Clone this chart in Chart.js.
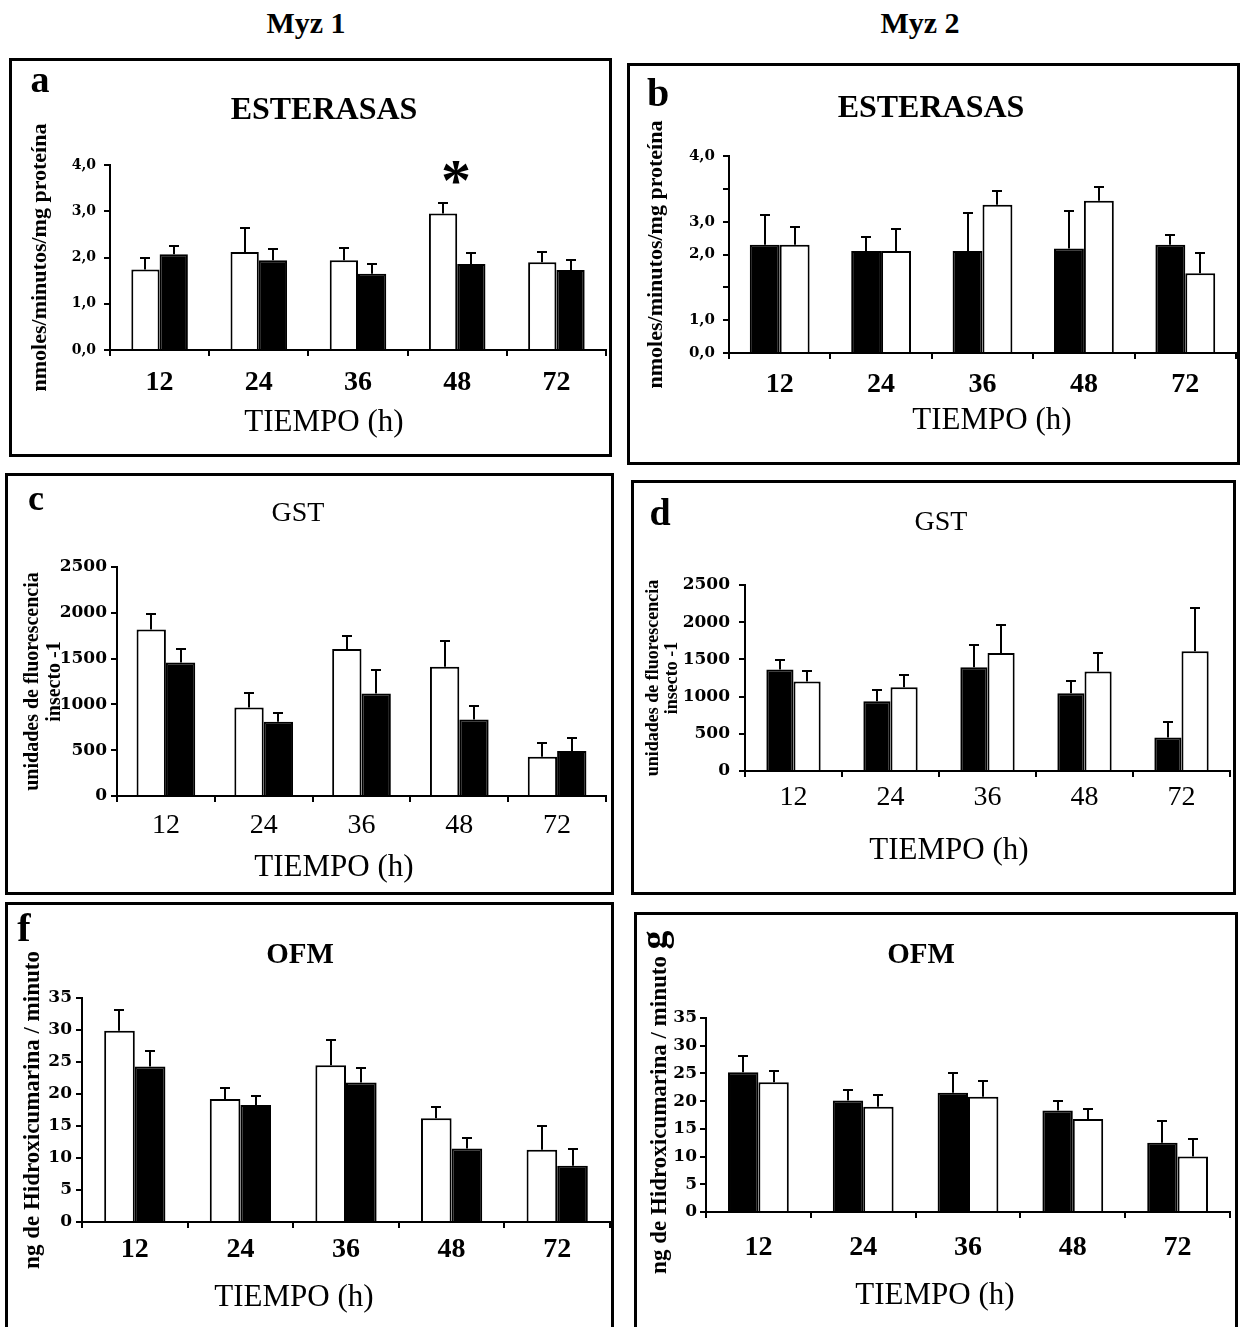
<!DOCTYPE html>
<html>
<head>
<meta charset="utf-8">
<script src="https://cdn.jsdelivr.net/npm/chart.js@4.4.1/dist/chart.umd.min.js"></script>
<style>
  body { margin: 0; background: #fff; width: 1241px; height: 1327px; position: relative; overflow: hidden;
         font-family: "Liberation Serif", "Times New Roman", serif; color: #000; }
  .box { position: absolute; border: 3px solid #000; box-sizing: border-box; }
  .box canvas { position: absolute; left: 0; top: 0; }
  .t { position: absolute; transform: translate(-50%, -50%); line-height: 1; white-space: nowrap; }
</style>
</head>
<body>
<div class="box" id="pa"></div>
<div class="box" id="pb"></div>
<div class="box" id="pc"></div>
<div class="box" id="pd"></div>
<div class="box" id="pf"></div>
<div class="box" id="pg"></div>
<div id="labels"></div>

<script>
// categorias (tiempo, h)
var categories = ["12", "24", "36", "48", "72"];

// a - ESTERASAS Myz 1 (barras blancas / negras)
var estMyz1Blanco = [1.74, 2.12, 1.94, 2.95, 1.90];
var estMyz1BlancoErr = [0.24, 0.51, 0.27, 0.22, 0.22];
var estMyz1Negro = [2.07, 1.94, 1.65, 1.86, 1.73];
var estMyz1NegroErr = [0.18, 0.25, 0.22, 0.23, 0.21];
var estMyz1Ticks = [0, 1, 2, 3, 4];
var estMyz1TickLabels = ["0,0", "1,0", "2,0", "3,0", "4,0"];

// b - ESTERASAS Myz 2 (negras / blancas)
var estMyz2Negro = [2.20, 2.07, 2.07, 2.12, 2.20];
var estMyz2NegroErr = [0.60, 0.28, 0.77, 0.77, 0.20];
var estMyz2Blanco = [2.20, 2.07, 3.01, 3.09, 1.62];
var estMyz2BlancoErr = [0.35, 0.44, 0.27, 0.28, 0.42];
var estMyz2Ticks = [0, 0.667, 1.333, 2, 2.667, 3.333, 4];
var estMyz2TickLabels = ["0,0", "1,0", "", "2,0", "3,0", "", "4,0"];

// c - GST Myz 1
var gstMyz1Blanco = [1817, 967, 1606, 1410, 429];
var gstMyz1BlancoErr = [174, 159, 138, 280, 152];
var gstMyz1Negro = [1457, 810, 1119, 836, 491];
var gstMyz1NegroErr = [145, 98, 255, 149, 145];

// d - GST Myz 2
var gstMyz2Negro = [1365, 937, 1396, 1045, 450];
var gstMyz2NegroErr = [130, 158, 298, 158, 212];
var gstMyz2Blanco = [1203, 1126, 1586, 1338, 1608];
var gstMyz2BlancoErr = [135, 158, 373, 248, 577];
var gstTicks = [0, 500, 1000, 1500, 2000, 2500];
var gstTickLabels = ["0", "500", "1000", "1500", "2000", "2500"];

// f - OFM Myz 1
var ofmMyz1Blanco = [29.9, 19.2, 24.5, 16.2, 11.3];
var ofmMyz1BlancoErr = [3.3, 1.8, 4.0, 1.7, 3.7];
var ofmMyz1Negro = [24.3, 18.3, 21.8, 11.5, 8.8];
var ofmMyz1NegroErr = [2.4, 1.4, 2.3, 1.7, 2.6];

// g - OFM Myz 2
var ofmMyz2Negro = [25.2, 20.1, 21.5, 18.3, 12.5];
var ofmMyz2NegroErr = [2.9, 2.0, 3.5, 1.8, 4.0];
var ofmMyz2Blanco = [23.4, 19.0, 20.8, 16.8, 10.0];
var ofmMyz2BlancoErr = [2.1, 2.1, 2.9, 1.7, 3.2];
var ofmTicks = [0, 5, 10, 15, 20, 25, 30, 35];
var ofmTickLabels = ["0", "5", "10", "15", "20", "25", "30", "35"];

Chart.defaults.color = "#000";
Chart.defaults.font.family = '"Liberation Serif", "Times New Roman", serif';

// barras de error (solo hacia arriba, con remate)
var errorBars = {
    id: "errorBars",
    afterDatasetsDraw: function (chart) {
        var ctx = chart.ctx, y = chart.scales.y;
        ctx.save();
        ctx.strokeStyle = "#000";
        ctx.lineWidth = 2;
        chart.data.datasets.forEach(function (ds, i) {
            chart.getDatasetMeta(i).data.forEach(function (bar, j) {
                var top = Math.round(y.getPixelForValue(ds.data[j] + ds.errors[j]));
                var x = Math.round(bar.x);
                ctx.beginPath();
                ctx.moveTo(x, bar.y);
                ctx.lineTo(x, top);
                ctx.moveTo(x - 5, top);
                ctx.lineTo(x + 5, top);
                ctx.stroke();
            });
        });
        ctx.restore();
    }
};

var BW = 3, TL = 6;

function panel(id, L, series, yTicks, yLabels) {
    var box = document.getElementById(id);
    var x0 = L.box[0], y0 = L.box[1], x1 = L.box[2], y1 = L.box[3];
    box.style.left = x0 + "px"; box.style.top = y0 + "px";
    box.style.width = (x1 - x0) + "px"; box.style.height = (y1 - y0) + "px";
    var cw = x1 - x0 - 2 * BW, ch = y1 - y0 - 2 * BW, ox = x0 + BW, oy = y0 + BW;
    var aL = L.area[0] - ox, aT = L.area[1] - oy, aR = L.area[2] - ox, aB = L.area[3] - oy;
    var canvas = document.createElement("canvas");
    canvas.width = cw; canvas.height = ch;
    canvas.style.width = cw + "px"; canvas.style.height = ch + "px";
    box.appendChild(canvas);

    var padL = L.padLeft || 0;
    var yt = L.yTitleFont;
    var ytPad = (L.yTitleX - ox) - padL - yt.size * yt.lineHeight / 2;
    var yTickPad = aL - (L.yLabelRight - ox) - TL;
    var xTickPad = (L.xLabelY - oy) - aB - TL - L.xTickFont.size * 1.2 / 2;

    new Chart(canvas, {
        type: "bar",
        data: {
            labels: categories,
            datasets: series.map(function (s) {
                return {
                    data: s.values,
                    errors: s.errors,
                    backgroundColor: s.fill,
                    borderColor: "#000",
                    borderWidth: 2,
                    borderSkipped: "start",
                    categoryPercentage: L.groupWidth,
                    barPercentage: 1
                };
            })
        },
        options: {
            responsive: false,
            animation: false,
            devicePixelRatio: 1,
            layout: { padding: { left: padL, right: cw - aR, top: aT, bottom: 0 } },
            plugins: { legend: { display: false }, tooltip: { enabled: false } },
            scales: {
                x: {
                    grid: { display: true, drawOnChartArea: false, drawTicks: true, tickLength: TL, color: "#000", lineWidth: 2 },
                    border: { display: true, color: "#000", width: 2 },
                    ticks: { font: L.xTickFont, color: "#000", padding: xTickPad, maxRotation: 0, minRotation: 0, autoSkip: false },
                    afterFit: function (s) { s.height = ch - aB; }
                },
                y: {
                    min: yTicks[0],
                    max: yTicks[yTicks.length - 1],
                    afterBuildTicks: function (s) { s.ticks = yTicks.map(function (v) { return { value: v }; }); },
                    grid: { display: true, drawOnChartArea: false, drawTicks: true, tickLength: TL, color: "#000", lineWidth: 2 },
                    border: { display: true, color: "#000", width: 2 },
                    ticks: {
                        font: L.yTickFont, color: "#000", padding: yTickPad, autoSkip: false,
                        callback: function (v, i) { return yLabels[i]; }
                    },
                    title: { display: true, text: L.yTitle, font: yt, color: "#000", padding: { top: ytPad, bottom: 0 } },
                    afterFit: function (s) { s.width = aL - padL; }
                }
            }
        },
        plugins: [errorBars]
    });
}

var W = "#ffffff", K = "#000000";
var serif = '"Liberation Serif", "Times New Roman", serif';
var dejavu = '"DejaVu Serif", serif';

panel("pa", {
    box: [9, 58, 612, 457], area: [110, 165, 606, 350], padLeft: 14, groupWidth: 0.57,
    yTitle: "nmoles/minutos/mg proteína", yTitleX: 40,
    yTitleFont: { family: serif, size: 22, weight: "bold", lineHeight: 1.2 },
    yTickFont: { family: dejavu, size: 14, weight: "bold" }, yLabelRight: 96,
    xTickFont: { family: serif, size: 28, weight: "bold" }, xLabelY: 383
}, [
    { values: estMyz1Blanco, errors: estMyz1BlancoErr, fill: W },
    { values: estMyz1Negro, errors: estMyz1NegroErr, fill: K }
], estMyz1Ticks, estMyz1TickLabels);

panel("pb", {
    box: [627, 63, 1240, 465], area: [729, 156, 1236, 353], groupWidth: 0.59,
    yTitle: "nmoles/minutos/mg proteína", yTitleX: 656,
    yTitleFont: { family: serif, size: 22, weight: "bold", lineHeight: 1.2 },
    yTickFont: { family: dejavu, size: 15, weight: "bold" }, yLabelRight: 715,
    xTickFont: { family: serif, size: 28, weight: "bold" }, xLabelY: 385
}, [
    { values: estMyz2Negro, errors: estMyz2NegroErr, fill: K },
    { values: estMyz2Blanco, errors: estMyz2BlancoErr, fill: W }
], estMyz2Ticks, estMyz2TickLabels);

panel("pc", {
    box: [5, 473, 614, 895], area: [117, 567, 606, 796], groupWidth: 0.6,
    yTitle: ["unidades de fluorescencia", "insecto -1"], yTitleX: 33,
    yTitleFont: { family: serif, size: 20, weight: "bold", lineHeight: 1.1 },
    yTickFont: { family: dejavu, size: 17, weight: "bold" }, yLabelRight: 107,
    xTickFont: { family: serif, size: 28, weight: "normal" }, xLabelY: 826
}, [
    { values: gstMyz1Blanco, errors: gstMyz1BlancoErr, fill: W },
    { values: gstMyz1Negro, errors: gstMyz1NegroErr, fill: K }
], gstTicks, gstTickLabels);

panel("pd", {
    box: [631, 480, 1236, 895], area: [745, 585, 1230, 771], groupWidth: 0.56,
    yTitle: ["unidades de fluorescencia", "insecto -1"], yTitleX: 653,
    yTitleFont: { family: serif, size: 18, weight: "bold", lineHeight: 1.1 },
    yTickFont: { family: dejavu, size: 17, weight: "bold" }, yLabelRight: 730,
    xTickFont: { family: serif, size: 28, weight: "normal" }, xLabelY: 798
}, [
    { values: gstMyz2Negro, errors: gstMyz2NegroErr, fill: K },
    { values: gstMyz2Blanco, errors: gstMyz2BlancoErr, fill: W }
], gstTicks, gstTickLabels);

panel("pf", {
    box: [5, 902, 614, 1340], area: [82, 998, 610, 1222], groupWidth: 0.58,
    yTitle: "ng de Hidroxicumarina / minuto", yTitleX: 33,
    yTitleFont: { family: serif, size: 23, weight: "bold", lineHeight: 1.2 },
    yTickFont: { family: dejavu, size: 17, weight: "bold" }, yLabelRight: 72,
    xTickFont: { family: serif, size: 28, weight: "bold" }, xLabelY: 1250
}, [
    { values: ofmMyz1Blanco, errors: ofmMyz1BlancoErr, fill: W },
    { values: ofmMyz1Negro, errors: ofmMyz1NegroErr, fill: K }
], ofmTicks, ofmTickLabels);

panel("pg", {
    box: [634, 912, 1238, 1340], area: [706, 1018, 1230, 1212], groupWidth: 0.58,
    yTitle: "ng de Hidroxicumarina / minuto", yTitleX: 660,
    yTitleFont: { family: serif, size: 23, weight: "bold", lineHeight: 1.2 },
    yTickFont: { family: dejavu, size: 17, weight: "bold" }, yLabelRight: 697,
    xTickFont: { family: serif, size: 28, weight: "bold" }, xLabelY: 1248
}, [
    { values: ofmMyz2Negro, errors: ofmMyz2NegroErr, fill: K },
    { values: ofmMyz2Blanco, errors: ofmMyz2BlancoErr, fill: W }
], ofmTicks, ofmTickLabels);

// textos sueltos: encabezados, letras de panel, titulos y ejes X
var texts = [
    ["Myz 1", 306, 23, 30, "bold"],
    ["Myz 2", 920, 23, 30, "bold"],
    ["a", 40, 79, 38, "bold"],
    ["b", 658, 93, 40, "bold"],
    ["c", 36, 498, 36, "bold"],
    ["d", 660, 512, 38, "bold"],
    ["f", 24, 928, 40, "bold"],
    ["g", 653, 940, 38, "bold", "rotate(-90deg)"],
    ["ESTERASAS", 324, 108, 32, "bold"],
    ["ESTERASAS", 931, 106, 32, "bold"],
    ["GST", 298, 512, 28, "normal"],
    ["GST", 941, 521, 28, "normal"],
    ["OFM", 300, 953, 29, "bold"],
    ["OFM", 921, 953, 29, "bold"],
    ["TIEMPO (h)", 324, 420, 31, "normal"],
    ["TIEMPO (h)", 992, 418, 31, "normal"],
    ["TIEMPO (h)", 334, 865, 31, "normal"],
    ["TIEMPO (h)", 949, 848, 31, "normal"],
    ["TIEMPO (h)", 294, 1295, 31, "normal"],
    ["TIEMPO (h)", 935, 1293, 31, "normal"],
    ["*", 456, 180, 60, "bold"]
];
var host = document.getElementById("labels");
texts.forEach(function (t) {
    var el = document.createElement("div");
    el.className = "t";
    el.textContent = t[0];
    el.style.left = t[1] + "px";
    el.style.top = t[2] + "px";
    el.style.fontSize = t[3] + "px";
    el.style.fontWeight = t[4];
    if (t[5]) el.style.transform = "translate(-50%, -50%) " + t[5];
    host.appendChild(el);
});
</script>
</body>
</html>
